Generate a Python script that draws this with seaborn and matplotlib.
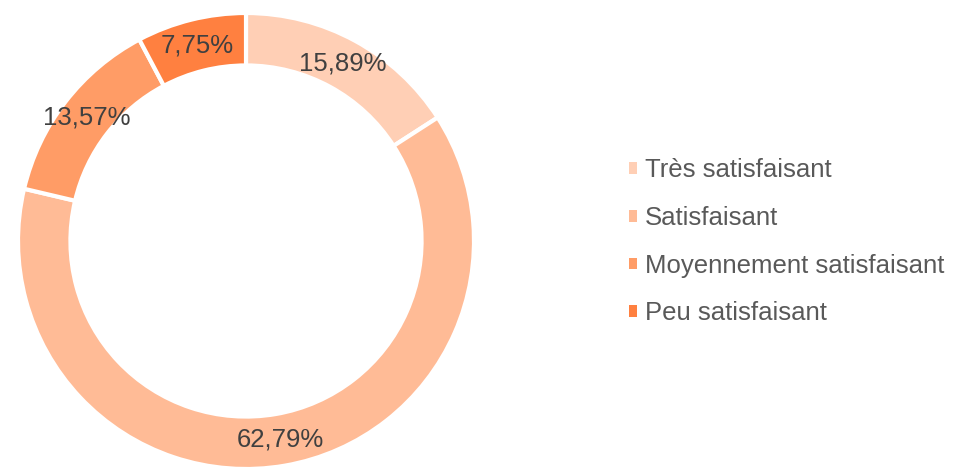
import matplotlib
matplotlib.use("Agg")
import matplotlib.pyplot as plt
import seaborn as sns
from matplotlib.patches import Patch

sns.set_theme(style="white")
plt.rcParams['font.family'] = ['Liberation Sans', 'DejaVu Sans']

categories = ["Très satisfaisant", "Satisfaisant", "Moyennement satisfaisant", "Peu satisfaisant"]
values = [15.89, 62.79, 13.57, 7.75]
colors = ["#FFCFB5", "#FFBB96", "#FF9C66", "#FF8040"]

fig = plt.figure(figsize=(9.55, 4.68), dpi=100)
ax = fig.add_axes([18 / 955, -1 / 468, 456 / 955, 456 / 468])

wedges, texts, autotexts = ax.pie(
    values, colors=colors, startangle=90, counterclock=False,
    wedgeprops=dict(width=0.23, edgecolor="white", linewidth=3),
    autopct=lambda p: f"{p:.2f}%".replace(".", ","), pctdistance=0.885,
    textprops=dict(fontsize=18.5, color="#404040"))
ax.set_xlim(-1, 1)
ax.set_ylim(-1, 1)
ax.set_aspect("equal")

handles = [Patch(facecolor=c, edgecolor="none") for c in colors]
fig.legend(handles, categories, loc="center left", bbox_to_anchor=(606 / 955, 0.483),
           frameon=False, fontsize=18.5, labelcolor="#595959",
           handlelength=0.32, handleheight=0.32, handletextpad=0.3, labelspacing=0.92)

fig.savefig("out.png", dpi=100)
